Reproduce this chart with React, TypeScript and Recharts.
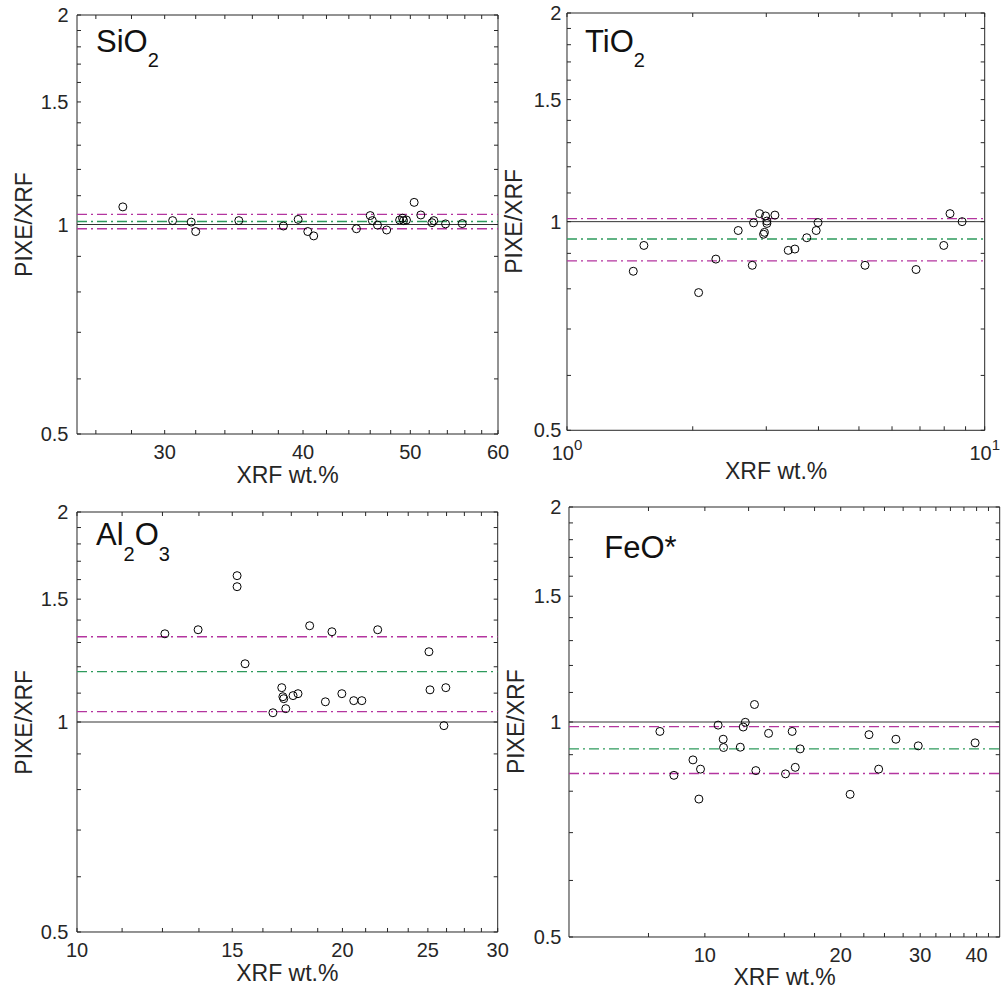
import React from 'react';
import { ScatterChart, Scatter, XAxis, YAxis, ReferenceLine, ReferenceArea } from 'recharts';

const FONT = '"Liberation Sans", Arial, Helvetica, sans-serif';
const INK = '#262626';
const MAGENTA = '#B4359F';
const GREEN = '#2E9A5C';

// ---------- data ----------
const siO2Xrf = [27.5, 30.5, 31.7, 32.0, 35.0, 38.4, 39.6, 40.4, 40.9, 44.7, 46.0, 46.2, 46.7, 47.6, 48.9, 49.2, 49.3, 49.6, 50.4, 51.1, 52.3, 52.5, 53.8, 55.7];
const siO2Ratio = [1.06, 1.013, 1.008, 0.977, 1.013, 0.995, 1.017, 0.977, 0.963, 0.986, 1.03, 1.013, 0.998, 0.982, 1.015, 1.021, 1.013, 1.015, 1.076, 1.032, 1.006, 1.013, 1.002, 1.003];
const siO2Stats = [1.010, 1.034, 0.986]; // mean, upper, lower

const tiO2Xrf = [1.441, 1.528, 2.066, 2.272, 2.57, 2.777, 2.797, 2.891, 2.955, 2.97, 2.988, 3.01, 3.01, 3.146, 3.386, 3.512, 3.75, 3.95, 3.99, 5.17, 6.85, 7.98, 8.26, 8.83];
const tiO2Ratio = [0.848, 0.924, 0.79, 0.883, 0.971, 0.865, 0.996, 1.027, 0.959, 0.965, 1.019, 0.994, 1.002, 1.022, 0.909, 0.913, 0.948, 0.971, 0.997, 0.865, 0.853, 0.924, 1.027, 1.0];
const tiO2Stats = [0.944, 1.010, 0.878];

const al2O3Xrf = [12.58, 13.72, 15.19, 15.19, 15.51, 16.68, 17.07, 17.12, 17.16, 17.25, 17.58, 17.81, 18.36, 19.13, 19.46, 19.97, 20.6, 21.04, 21.93, 25.07, 25.14, 26.07, 26.2];
const al2O3Ratio = [1.338, 1.356, 1.621, 1.563, 1.212, 1.031, 1.12, 1.087, 1.08, 1.045, 1.091, 1.098, 1.374, 1.069, 1.347, 1.098, 1.073, 1.073, 1.356, 1.261, 1.112, 0.988, 1.12];
const al2O3Stats = [1.181, 1.325, 1.035];

const feOXrf = [7.95, 8.54, 9.41, 9.7, 9.78, 10.7, 10.98, 11.0, 11.98, 12.16, 12.29, 12.88, 12.97, 13.84, 15.09, 15.61, 15.86, 16.26, 20.98, 23.1, 24.27, 26.5, 29.7, 39.7];
const feORatio = [0.97, 0.842, 0.885, 0.78, 0.859, 0.99, 0.946, 0.921, 0.922, 0.984, 0.999, 1.058, 0.855, 0.964, 0.846, 0.97, 0.864, 0.917, 0.792, 0.96, 0.859, 0.946, 0.926, 0.935];
const feOStats = [0.917, 0.985, 0.847];

// ---------- ticks ----------
const yTicks = [0.5, 0.6, 0.7, 0.8, 0.9, 1, 1.1, 1.2, 1.3, 1.4, 1.5, 1.6, 1.7, 1.8, 1.9, 2];
const yMajor = [0.5, 1, 1.5, 2];

const siO2Ticks = [26, 28, 30, 32, 34, 36, 38, 40, 42, 44, 46, 48, 50, 52, 54, 56, 58, 60];
const siO2Major = [30, 40, 50, 60];
const tiO2Ticks = [1, 2, 3, 4, 5, 6, 7, 8, 9, 10];
const tiO2Major = [1, 10];
const al2O3Ticks = [10, 11.25, 12.5, 13.75, 15, 16.25, 17.5, 18.75, 20, 21.25, 22.5, 23.75, 25, 26.25, 27.5, 28.75, 30];
const al2O3Major = [10, 15, 20, 25, 30];
const feOTicks = [7.5, 10, 12.5, 15, 17.5, 20, 22.5, 25, 27.5, 30, 32.5, 35, 37.5, 40, 42.5];
const feOMajor = [10, 20, 30, 40];

type Cfg = {
  xs: number[]; ys: number[]; stats: number[];
  xDomain: [number, number]; xTicks: number[]; xMajor: number[]; pow10?: boolean;
  L: number; R: number; T: number; B: number; yGap: number; xDy: number; mRight: number;
};

const TL = 4;

const XTick = (p: any) => {
  const { x, y, payload, plotH, major, pow10, xDy } = p;
  const v = payload.value;
  const isMajor = major.includes(v);
  return (
    <g>
      <line x1={x} x2={x} y1={y} y2={y - TL} stroke={INK} strokeWidth={1} />
      <line x1={x} x2={x} y1={y - plotH} y2={y - plotH + TL} stroke={INK} strokeWidth={1} />
      {isMajor &&
        (pow10 ? (
          <text x={x} y={y + xDy} textAnchor="middle" fontFamily={FONT} fontSize={20} fill={INK}>
            10<tspan dy={-10} fontSize={15}>{Math.round(Math.log10(v))}</tspan>
          </text>
        ) : (
          <text x={x} y={y + xDy} textAnchor="middle" fontFamily={FONT} fontSize={20} fill={INK}>
            {v}
          </text>
        ))}
    </g>
  );
};

const YTick = (p: any) => {
  const { x, y, payload, plotW, yGap } = p;
  const v = payload.value;
  const isMajor = yMajor.includes(v);
  return (
    <g>
      <line x1={x} x2={x + TL} y1={y} y2={y} stroke={INK} strokeWidth={1} />
      <line x1={x + plotW} x2={x + plotW - TL} y1={y} y2={y} stroke={INK} strokeWidth={1} />
      {isMajor && (
        <text x={x - yGap} y={y} dy="0.36em" textAnchor="end" fontFamily={FONT} fontSize={20} fill={INK}>
          {v}
        </text>
      )}
    </g>
  );
};

const Dot = (p: any) => (
  <circle cx={p.cx} cy={p.cy} r={4} fill="none" stroke="#000" strokeWidth={1} />
);

const DASH = '10 4 2 4';

const Panel = ({ cfg }: { cfg: Cfg }) => {
  const { xs, ys, stats, xDomain, xTicks, xMajor, pow10, L, R, T, B, yGap, xDy, mRight } = cfg;
  const data = xs.map((x, i) => ({ x, y: ys[i] }));
  const plotW = R - L;
  const plotH = B - T;
  const YW = 80;
  const XH = 56;
  const mTop = 20;
  const width = plotW + YW + mRight;
  const height = plotH + mTop + XH;
  return (
    <div style={{ position: 'absolute', left: L - YW, top: T - mTop, width, height }}>
      <ScatterChart width={width} height={height} margin={{ top: mTop, right: mRight, bottom: 0, left: 0 }}>
        <XAxis
          type="number"
          dataKey="x"
          scale="log"
          domain={xDomain}
          allowDataOverflow
          ticks={xTicks}
          interval={0}
          height={XH}
          tickSize={0}
          tickMargin={0}
          tickLine={false}
          axisLine={false}
          tick={(tp: any) => <XTick {...tp} plotH={plotH} major={xMajor} pow10={pow10} xDy={xDy} />}
        />
        <YAxis
          type="number"
          dataKey="y"
          scale="log"
          domain={[0.5, 2]}
          allowDataOverflow
          ticks={yTicks}
          interval={0}
          width={YW}
          tickSize={0}
          tickMargin={0}
          tickLine={false}
          axisLine={false}
          tick={(tp: any) => <YTick {...tp} plotW={plotW} yGap={yGap} />}
        />
        <ReferenceLine y={1} stroke="#333333" strokeWidth={1} ifOverflow="visible" />
        <ReferenceLine y={stats[0]} stroke={GREEN} strokeWidth={1.3} strokeDasharray={DASH} />
        <ReferenceLine y={stats[1]} stroke={MAGENTA} strokeWidth={1.3} strokeDasharray={DASH} />
        <ReferenceLine y={stats[2]} stroke={MAGENTA} strokeWidth={1.3} strokeDasharray={DASH} />
        <Scatter data={data} shape={Dot} isAnimationActive={false} />
        <ReferenceArea
          x1={xDomain[0]}
          x2={xDomain[1]}
          y1={0.5}
          y2={2}
          fill="none"
          fillOpacity={0}
          stroke={INK}
          strokeWidth={1}
          strokeOpacity={1}
          ifOverflow="visible"
        />
      </ScatterChart>
    </div>
  );
};

const panels: Cfg[] = [
  { xs: siO2Xrf, ys: siO2Ratio, stats: siO2Stats, xDomain: [25, 60], xTicks: siO2Ticks, xMajor: siO2Major,
    L: 77, R: 498, T: 15, B: 434, yGap: 8.5, xDy: 25, mRight: 25 },
  { xs: tiO2Xrf, ys: tiO2Ratio, stats: tiO2Stats, xDomain: [1, 10], xTicks: tiO2Ticks, xMajor: tiO2Major, pow10: true,
    L: 567.3, R: 985, T: 12.7, B: 430, yGap: 5.5, xDy: 30, mRight: 18 },
  { xs: al2O3Xrf, ys: al2O3Ratio, stats: al2O3Stats, xDomain: [10, 30], xTicks: al2O3Ticks, xMajor: al2O3Major,
    L: 77, R: 497.7, T: 512.3, B: 932.3, yGap: 8.5, xDy: 25.5, mRight: 25 },
  { xs: feOXrf, ys: feORatio, stats: feOStats, xDomain: [5, 45], xTicks: feOTicks, xMajor: feOMajor,
    L: 569.3, R: 1000, T: 506.7, B: 936.7, yGap: 7.5, xDy: 25, mRight: 3 },
];

const AxisTexts = () => (
  <svg width={1003} height={993} style={{ position: 'absolute', left: 0, top: 0, pointerEvents: 'none' }}>
    <g fontFamily={FONT} fill={INK}>
      {panels.map((p, i) => (
        <g key={i}>
          <text x={(p.L + p.R) / 2} y={p.B + 48.5} textAnchor="middle" fontSize={23}>XRF wt.%</text>
          <text
            x={0}
            y={0}
            textAnchor="middle"
            fontSize={23}
            transform={`translate(${p.L - 45}, ${(p.T + p.B) / 2}) rotate(-90)`}
          >
            PIXE/XRF
          </text>
        </g>
      ))}
    </g>
    <g fontFamily={FONT} fill="#111">
      <text x={96} y={51.7} fontSize={31}>SiO<tspan dy={15} fontSize={20}>2</tspan></text>
      <text x={585} y={51.7} fontSize={31}>TiO<tspan dy={15} fontSize={20}>2</tspan></text>
      <text x={96} y={545} fontSize={31}>
        Al<tspan dy={16} fontSize={20}>2</tspan><tspan dy={-16}>O</tspan><tspan dy={16} fontSize={20}>3</tspan>
      </text>
      <text x={604.3} y={558.3} fontSize={31}>FeO*</text>
    </g>
  </svg>
);

export default function App() {
  return (
    <div style={{ position: 'absolute', left: 0, top: 0, width: 1003, height: 993, overflow: 'hidden', background: '#fff' }}>
      {panels.map((p, i) => (
        <Panel key={i} cfg={p} />
      ))}
      <AxisTexts />
    </div>
  );
}
